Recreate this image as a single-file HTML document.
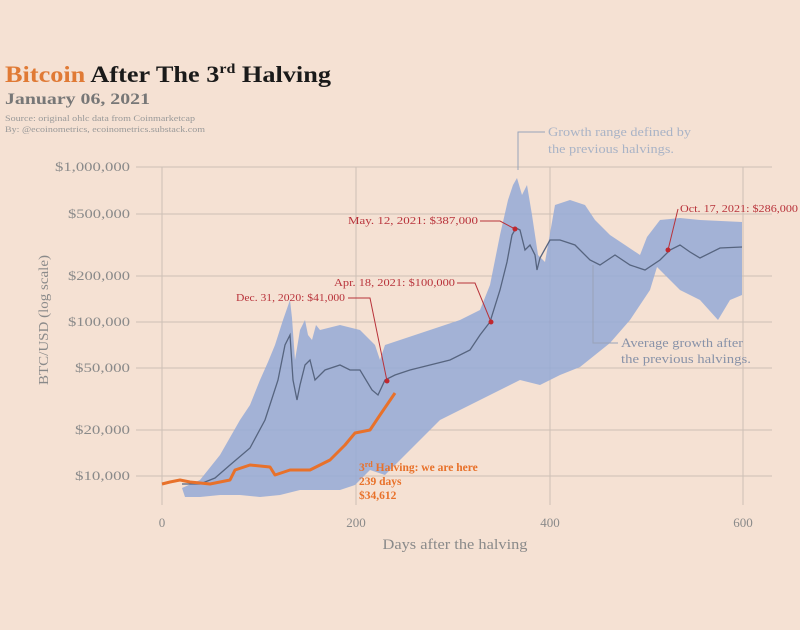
<!DOCTYPE html>
<html><head><meta charset="utf-8"><style>
body{margin:0;width:800px;height:625px;background:#f5e1d3;overflow:hidden;font-family:"Liberation Serif",serif}
</style></head><body>
<svg width="800" height="625" viewBox="0 0 800 625" xmlns="http://www.w3.org/2000/svg" font-family="Liberation Serif, serif">
<rect width="800" height="625" fill="#f5e1d3"/>
<text x="5" y="82" font-size="23" font-weight="bold" fill="#e07a35" textLength="326" lengthAdjust="spacingAndGlyphs">Bitcoin <tspan fill="#1a1a1a">After The 3</tspan><tspan fill="#1a1a1a" font-size="14" dy="-9">rd</tspan><tspan fill="#1a1a1a" dy="9"> Halving</tspan></text>
<text x="5" y="104" font-size="16" font-weight="bold" fill="#777" textLength="145" lengthAdjust="spacingAndGlyphs">January 06, 2021</text>
<text x="5" y="121" font-size="8.5" fill="#999" textLength="190" lengthAdjust="spacingAndGlyphs">Source: original ohlc data from Coinmarketcap</text>
<text x="5" y="132" font-size="8.5" fill="#999" textLength="200" lengthAdjust="spacingAndGlyphs">By: @ecoinometrics, ecoinometrics.substack.com</text>
<g stroke="#cdbfb6" stroke-width="1">
<line x1="136" y1="167" x2="772" y2="167"/><line x1="136" y1="214" x2="772" y2="214"/>
<line x1="136" y1="276" x2="772" y2="276"/><line x1="136" y1="322" x2="772" y2="322"/>
<line x1="136" y1="368" x2="772" y2="368"/><line x1="136" y1="430" x2="772" y2="430"/>
<line x1="136" y1="476" x2="772" y2="476"/>
<line x1="162" y1="167" x2="162" y2="505"/><line x1="356" y1="167" x2="356" y2="505"/>
<line x1="550" y1="167" x2="550" y2="505"/><line x1="743" y1="167" x2="743" y2="505"/>
</g>
<g font-size="13" fill="#8a8a8a" text-anchor="end">
<text x="130" y="171" textLength="75" lengthAdjust="spacingAndGlyphs">$1,000,000</text><text x="130" y="218" textLength="62" lengthAdjust="spacingAndGlyphs">$500,000</text>
<text x="130" y="280" textLength="62" lengthAdjust="spacingAndGlyphs">$200,000</text><text x="130" y="326" textLength="62" lengthAdjust="spacingAndGlyphs">$100,000</text>
<text x="130" y="372" textLength="55" lengthAdjust="spacingAndGlyphs">$50,000</text><text x="130" y="434" textLength="55" lengthAdjust="spacingAndGlyphs">$20,000</text>
<text x="130" y="480" textLength="55" lengthAdjust="spacingAndGlyphs">$10,000</text>
</g>
<g font-size="13" fill="#8a8a8a" text-anchor="middle">
<text x="162" y="527">0</text><text x="356" y="527">200</text><text x="550" y="527">400</text><text x="743" y="527">600</text>
<text x="455" y="549" font-size="15" textLength="145" lengthAdjust="spacingAndGlyphs">Days after the halving</text>
<text transform="translate(48,320) rotate(-90)" font-size="14" textLength="130" lengthAdjust="spacingAndGlyphs">BTC/USD (log scale)</text>
</g>
<polygon fill="#94a9d6" fill-opacity="0.85" points="182,488 200,480 220,455 240,420 250,405 260,380 268,362 275,345 283,320 290,300 292,318 295,360 300,330 305,320 308,335 312,340 316,325 320,330 340,325 360,330 375,345 380,360 385,345 400,340 430,330 460,320 480,310 490,285 500,235 508,200 513,185 517,178 522,195 527,185 532,215 538,255 545,262 555,205 570,200 585,205 595,220 610,235 625,245 640,255 647,237 660,220 680,218 700,220 742,222 742,295 730,300 718,320 700,300 680,290 665,275 657,267 650,290 630,320 610,343 580,367 560,375 540,385 520,380 500,390 480,400 460,410 440,420 420,440 400,460 385,475 370,470 355,485 340,490 320,490 300,490 280,495 260,497 240,495 220,495 200,497 185,497"/>
<polyline fill="none" stroke="#56647f" stroke-width="1.3" points="182,484 200,484 215,478 230,465 250,448 265,420 278,380 285,345 290,335 293,380 297,400 300,385 305,365 310,360 315,380 325,370 340,365 350,370 360,370 372,390 378,395 385,380 395,375 410,370 430,365 450,360 470,350 480,335 490,322 500,290 507,262 512,235 516,228 520,230 525,250 530,245 535,255 537,270 540,258 550,240 560,240 575,245 590,260 600,265 615,255 630,265 645,270 660,260 670,250 680,245 690,252 700,258 720,248 742,247"/>
<polyline fill="none" stroke="#e8712a" stroke-width="3" stroke-linejoin="round" points="162,484 170,482 180,480 190,482 210,484 230,480 235,470 250,465 270,467 275,475 290,470 310,470 330,460 345,445 355,433 370,430 380,415 395,393"/>
<g stroke="#b8323a" stroke-width="1" fill="none">
<polyline points="348,298 370,298 387,381"/>
<polyline points="457,283 475,283 491,322"/>
<polyline points="480,221 500,221 515,229"/>
<polyline points="678,209 668,250"/>
</g>
<g fill="#c0282f"><circle cx="387" cy="381" r="2.5"/><circle cx="491" cy="322" r="2.5"/><circle cx="515" cy="229" r="2.5"/><circle cx="668" cy="250" r="2.5"/></g>
<g font-size="10.5" fill="#b8323a">
<text x="345" y="301" text-anchor="end" textLength="109" lengthAdjust="spacingAndGlyphs">Dec. 31, 2020: $41,000</text>
<text x="455" y="286" text-anchor="end" textLength="121" lengthAdjust="spacingAndGlyphs">Apr. 18, 2021: $100,000</text>
<text x="478" y="224" text-anchor="end" textLength="130" lengthAdjust="spacingAndGlyphs">May. 12, 2021: $387,000</text>
<text x="680" y="212" textLength="118" lengthAdjust="spacingAndGlyphs">Oct. 17, 2021: $286,000</text>
</g>
<g font-size="11.5" font-weight="bold" fill="#e8712a">
<text x="359" y="471">3<tspan font-size="8" dy="-4">rd</tspan><tspan dy="4"> Halving: we are here</tspan></text>
<text x="359" y="485">239 days</text><text x="359" y="499">$34,612</text>
</g>
<g stroke="#98a3b8" stroke-width="1" fill="none">
<polyline points="518,170 518,132 545,132"/>
<polyline points="593,265 593,343 618,343"/>
</g>
<g font-size="13" fill="#a9b3c6"><text x="548" y="136" textLength="143" lengthAdjust="spacingAndGlyphs">Growth range defined by</text><text x="548" y="153" textLength="126" lengthAdjust="spacingAndGlyphs">the previous halvings.</text></g>
<g font-size="13" fill="#8892a8"><text x="621" y="347" textLength="122" lengthAdjust="spacingAndGlyphs">Average growth after</text><text x="621" y="363" textLength="130" lengthAdjust="spacingAndGlyphs">the previous halvings.</text></g>
</svg>
</body></html>
